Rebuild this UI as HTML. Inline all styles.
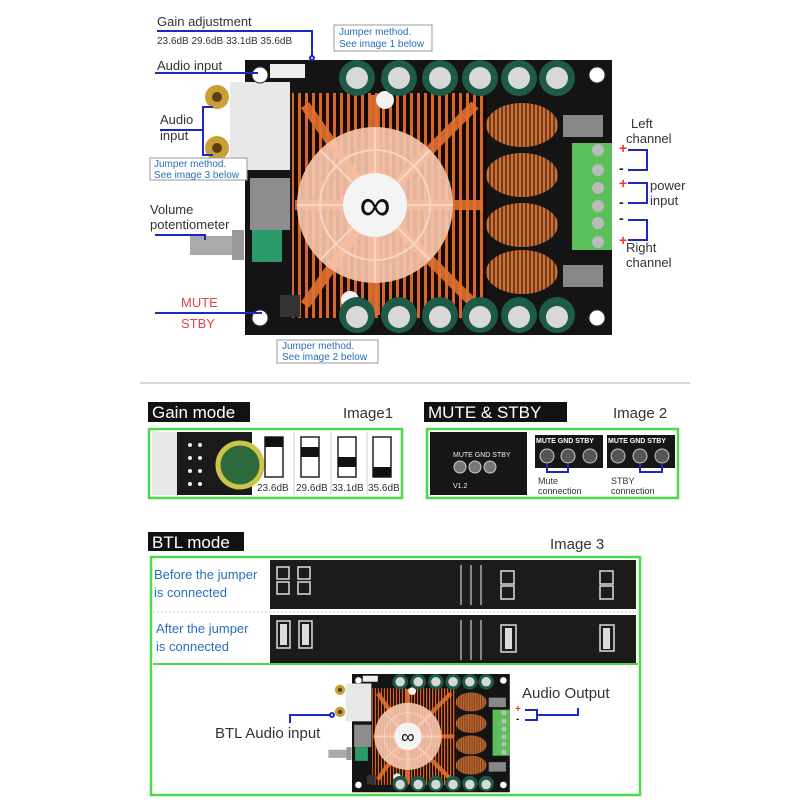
<!DOCTYPE html>
<html><head><meta charset="utf-8"><style>
html,body{margin:0;padding:0;background:#fff;}
svg{display:block;font-family:"Liberation Sans",sans-serif;}
</style></head><body>
<svg width="800" height="800" viewBox="0 0 800 800" xmlns="http://www.w3.org/2000/svg">
<defs>
<pattern id="fins" width="7" height="7" patternUnits="userSpaceOnUse">
<rect width="7" height="7" fill="#d8652a"/><rect x="0" width="4" height="7" fill="#150a04"/>
</pattern>
<pattern id="coil" width="4" height="4" patternUnits="userSpaceOnUse">
<rect width="4" height="4" fill="#c9733c"/><rect width="2" height="4" fill="#7a3a16"/>
</pattern>
<g id="board">
 <rect x="0" y="0" width="367" height="275" fill="#141414"/>
 <rect x="25" y="4" width="35" height="14" fill="#eee"/>
 <rect x="-15" y="22" width="60" height="88" fill="#e8e8e8"/>
 <circle cx="-28" cy="37" r="12" fill="#c9a038"/><circle cx="-28" cy="37" r="5" fill="#5a4010"/>
 <circle cx="-28" cy="88" r="12" fill="#c9a038"/><circle cx="-28" cy="88" r="5" fill="#5a4010"/>
 <rect x="5" y="118" width="40" height="52" fill="#8d8d8d"/>
 <rect x="-55" y="176" width="42" height="19" fill="#aaa"/>
 <rect x="-13" y="170" width="12" height="30" fill="#999"/>
 <rect x="7" y="170" width="30" height="32" fill="#2a9a6a"/>
 <rect x="47" y="33" width="195" height="225" fill="url(#fins)"/>
 <g stroke="#e07030" stroke-width="10" opacity="0.9">
  <line x1="130" y1="145" x2="60" y2="45"/><line x1="130" y1="145" x2="230" y2="45"/>
  <line x1="130" y1="145" x2="60" y2="245"/><line x1="130" y1="145" x2="230" y2="245"/>
  <line x1="130" y1="145" x2="130" y2="35"/><line x1="130" y1="145" x2="130" y2="255"/>
  <line x1="130" y1="145" x2="50" y2="145"/><line x1="130" y1="145" x2="238" y2="145"/>
 </g>
 <circle cx="130" cy="145" r="78" fill="#f6c3aa" opacity="0.92"/>
 <g stroke="#fbdccd" stroke-width="2" fill="none" opacity="0.8">
  <circle cx="130" cy="145" r="55"/>
  <line x1="130" y1="67" x2="130" y2="113"/><line x1="130" y1="177" x2="130" y2="223"/>
  <line x1="52" y1="145" x2="98" y2="145"/><line x1="162" y1="145" x2="208" y2="145"/>
  <line x1="75" y1="90" x2="107" y2="122"/><line x1="153" y1="168" x2="185" y2="200"/>
  <line x1="185" y1="90" x2="153" y2="122"/><line x1="107" y1="168" x2="75" y2="200"/>
 </g>
 <circle cx="130" cy="145" r="32" fill="#f4f4f4"/>
 <text x="130" y="160" font-size="44" text-anchor="middle" fill="#111">∞</text>
 <circle cx="140" cy="40" r="9" fill="#f2f2f2"/><circle cx="105" cy="240" r="9" fill="#f2f2f2"/>
 <g fill="#1d5a48">
 <circle cx="112" cy="18" r="18"/><circle cx="154" cy="18" r="18"/><circle cx="195" cy="18" r="18"/><circle cx="235" cy="18" r="18"/><circle cx="274" cy="18" r="18"/><circle cx="312" cy="18" r="18"/>
 <circle cx="112" cy="255" r="18"/><circle cx="154" cy="255" r="18"/><circle cx="195" cy="255" r="18"/><circle cx="235" cy="255" r="18"/><circle cx="274" cy="255" r="18"/><circle cx="312" cy="255" r="18"/>
 </g>
 <g fill="#d8d8d8">
 <circle cx="112" cy="18" r="11"/><circle cx="154" cy="18" r="11"/><circle cx="195" cy="18" r="11"/><circle cx="235" cy="18" r="11"/><circle cx="274" cy="18" r="11"/><circle cx="312" cy="18" r="11"/>
 <circle cx="112" cy="257" r="11"/><circle cx="154" cy="257" r="11"/><circle cx="195" cy="257" r="11"/><circle cx="235" cy="257" r="11"/><circle cx="274" cy="257" r="11"/><circle cx="312" cy="257" r="11"/>
 </g>
 <g fill="url(#coil)">
 <ellipse cx="277" cy="65" rx="36" ry="22"/><ellipse cx="277" cy="115" rx="36" ry="22"/><ellipse cx="277" cy="165" rx="36" ry="22"/><ellipse cx="277" cy="212" rx="36" ry="22"/>
 </g>
 <rect x="318" y="55" width="40" height="22" fill="#888"/><rect x="318" y="205" width="40" height="22" fill="#888"/>
 <rect x="327" y="83" width="40" height="107" fill="#5cc05a"/>
 <g fill="#bbb"><circle cx="353" cy="90" r="6"/><circle cx="353" cy="110" r="6"/><circle cx="353" cy="128" r="6"/><circle cx="353" cy="146" r="6"/><circle cx="353" cy="163" r="6"/><circle cx="353" cy="182" r="6"/></g>
 <rect x="35" y="235" width="20" height="22" fill="#333"/>
 <circle cx="15" cy="15" r="8" fill="#fff" stroke="#333"/><circle cx="15" cy="258" r="8" fill="#fff" stroke="#333"/><circle cx="352" cy="258" r="8" fill="#fff" stroke="#333"/><circle cx="352" cy="15" r="8" fill="#fff" stroke="#333"/>
</g>
</defs>

<use href="#board" transform="translate(245,60)"/>

<g font-size="13" fill="#333">
<text x="157" y="26">Gain adjustment</text>
<text x="157" y="44" font-size="10">23.6dB  29.6dB  33.1dB  35.6dB</text>
<text x="157" y="70">Audio input</text>
<text x="160" y="124">Audio</text><text x="160" y="140">input</text>
<text x="150" y="214">Volume</text><text x="150" y="229">potentiometer</text>
<text x="631" y="128">Left</text><text x="626" y="143">channel</text>
<text x="650" y="190">power</text><text x="650" y="205">input</text>
<text x="626" y="252">Right</text><text x="626" y="267">channel</text>
<text x="181" y="307" fill="#e0444a">MUTE</text><text x="181" y="328" fill="#e0444a">STBY</text>
</g>
<g stroke="#1a2ac0" stroke-width="2" fill="none">
<path d="M157 31 H312 V56"/><circle cx="312" cy="58" r="2"/>
<path d="M155 73 H258"/>
<path d="M213 107 H203 V155 H213"/><path d="M160 130 H203"/>
<path d="M155 235 H205 V240"/>
<path d="M155 313 H262"/>
<path d="M628 150 H647 V170 H628"/><path d="M628 183 H647 V203 H628"/><path d="M628 220 H647 V240 H628"/>
</g>
<g font-size="14" font-weight="bold"><text x="619" y="153" fill="#e33">+</text><text x="619" y="173" fill="#222">-</text><text x="619" y="188" fill="#e33">+</text><text x="619" y="207" fill="#222">-</text><text x="619" y="223" fill="#222">-</text><text x="619" y="245" fill="#e33">+</text></g>
<g fill="#fff" stroke="#999" stroke-width="1" font-size="10">
<rect x="334" y="25" width="98" height="26"/><rect x="150" y="158" width="97" height="22"/><rect x="277" y="340" width="101" height="23"/>
</g>
<g font-size="10" fill="#2a6fb8">
<text x="339" y="35">Jumper method.</text><text x="339" y="47">See image 1 below</text>
<text x="154" y="167">Jumper method.</text><text x="154" y="178">See image 3 below</text>
<text x="282" y="349">Jumper method.</text><text x="282" y="360">See image 2 below</text>
</g>
<line x1="140" y1="383" x2="690" y2="383" stroke="#ccc" stroke-width="1.5"/>

<rect x="148" y="402" width="102" height="20" fill="#111"/><text x="152" y="418" font-size="17" fill="#fff">Gain mode</text>
<text x="343" y="418" font-size="15" fill="#333">Image1</text>
<rect x="149" y="429" width="253" height="69" fill="#fff" stroke="#4ed84a" stroke-width="2.5"/>
<rect x="152" y="432" width="100" height="63" fill="#1a1a1a"/>
<rect x="152" y="432" width="25" height="63" fill="#e8e8e8"/>
<circle cx="240" cy="465" r="22" fill="#2d6a3a" stroke="#cbc34a" stroke-width="5"/>
<g fill="#eee"><circle cx="190" cy="445" r="2"/><circle cx="200" cy="445" r="2"/><circle cx="190" cy="458" r="2"/><circle cx="200" cy="458" r="2"/><circle cx="190" cy="471" r="2"/><circle cx="200" cy="471" r="2"/><circle cx="190" cy="484" r="2"/><circle cx="200" cy="484" r="2"/></g>
<g stroke="#ccc"><line x1="294" y1="432" x2="294" y2="495"/><line x1="331" y1="432" x2="331" y2="495"/><line x1="367" y1="432" x2="367" y2="495"/></g>
<g fill="#fff" stroke="#222" stroke-width="1.5">
<rect x="265" y="437" width="18" height="40"/><rect x="301" y="437" width="18" height="40"/><rect x="338" y="437" width="18" height="40"/><rect x="373" y="437" width="18" height="40"/>
</g>
<g fill="#111"><rect x="265" y="437" width="18" height="10"/><rect x="301" y="447" width="18" height="10"/><rect x="338" y="457" width="18" height="10"/><rect x="373" y="467" width="18" height="10"/></g>
<g font-size="10" fill="#333"><text x="257" y="491">23.6dB</text><text x="296" y="491">29.6dB</text><text x="332" y="491">33.1dB</text><text x="368" y="491">35.6dB</text></g>

<rect x="424" y="402" width="143" height="20" fill="#111"/><text x="428" y="418" font-size="17" fill="#fff">MUTE &amp; STBY</text>
<text x="613" y="418" font-size="15" fill="#333">Image 2</text>
<rect x="427" y="429" width="251" height="69" fill="#fff" stroke="#4ed84a" stroke-width="2.5"/>
<rect x="430" y="432" width="97" height="63" fill="#161616"/>
<g font-size="7" fill="#eee"><text x="453" y="457">MUTE GND STBY</text><text x="453" y="488">V1.2</text></g>
<g fill="#777" stroke="#ccc"><circle cx="460" cy="467" r="6"/><circle cx="475" cy="467" r="6"/><circle cx="490" cy="467" r="6"/></g>
<rect x="535" y="435" width="68" height="33" fill="#161616"/><rect x="607" y="435" width="68" height="33" fill="#161616"/>
<g font-size="7" fill="#fff" font-weight="bold"><text x="536" y="443">MUTE GND STBY</text><text x="608" y="443">MUTE GND STBY</text></g>
<g fill="#555" stroke="#ccc"><circle cx="547" cy="456" r="7"/><circle cx="568" cy="456" r="7"/><circle cx="590" cy="456" r="7"/><circle cx="618" cy="456" r="7"/><circle cx="640" cy="456" r="7"/><circle cx="662" cy="456" r="7"/></g>
<path d="M547 464 V472 H568 V464 M640 464 V472 H662 V464" stroke="#1a2ac0" stroke-width="2" fill="none"/>
<g font-size="9" fill="#333"><text x="538" y="484">Mute</text><text x="538" y="494">connection</text><text x="611" y="484">STBY</text><text x="611" y="494">connection</text></g>

<rect x="148" y="532" width="96" height="19" fill="#111"/><text x="152" y="548" font-size="17" fill="#fff">BTL mode</text>
<text x="550" y="549" font-size="15" fill="#333">Image 3</text>
<rect x="151" y="557" width="489" height="238" fill="#fff" stroke="#4ed84a" stroke-width="2.5"/>
<line x1="153" y1="612" x2="638" y2="612" stroke="#ccc" stroke-dasharray="2 2"/>
<line x1="153" y1="664" x2="638" y2="664" stroke="#4ed84a" stroke-width="2"/>
<rect x="270" y="560" width="366" height="49" fill="#1c1a1a"/>
<rect x="270" y="615" width="366" height="48" fill="#1c1a1a"/>
<g font-size="13" fill="#2a6fb8"><text x="154" y="579">Before the jumper</text><text x="154" y="597">is connected</text><text x="156" y="633">After the jumper</text><text x="156" y="651">is connected</text></g>
<g fill="none" stroke="#ddd" stroke-width="1.5">
<rect x="277" y="567" width="12" height="12"/><rect x="277" y="582" width="12" height="12"/><rect x="298" y="567" width="12" height="12"/><rect x="298" y="582" width="12" height="12"/>
<rect x="501" y="571" width="13" height="13"/><rect x="501" y="586" width="13" height="13"/><rect x="600" y="571" width="13" height="13"/><rect x="600" y="586" width="13" height="13"/>
<rect x="277" y="621" width="13" height="27"/><rect x="299" y="621" width="13" height="27"/><rect x="501" y="625" width="15" height="27"/><rect x="600" y="625" width="14" height="26"/>
</g>
<g fill="#ddd"><rect x="280" y="624" width="7" height="21"/><rect x="302" y="624" width="7" height="21"/><rect x="505" y="628" width="7" height="21"/><rect x="603" y="628" width="7" height="21"/></g>
<g fill="#888"><rect x="460" y="565" width="2" height="40"/><rect x="470" y="565" width="2" height="40"/><rect x="480" y="565" width="2" height="40"/><rect x="460" y="620" width="2" height="40"/><rect x="470" y="620" width="2" height="40"/><rect x="480" y="620" width="2" height="40"/></g>

<use href="#board" transform="translate(352,674) scale(0.43)"/>
<text x="215" y="738" font-size="15" fill="#333">BTL Audio input</text>
<text x="522" y="698" font-size="15" fill="#333">Audio Output</text>
<g stroke="#1a2ac0" stroke-width="2" fill="none">
<path d="M290 723 V715 H330"/><circle cx="332" cy="715" r="2"/>
<path d="M525 710 H537 V720 H525 M537 715 H578 V708"/>
</g>
<text x="515" y="712" font-size="10" fill="#e33" font-weight="bold">+</text><text x="516" y="722" font-size="10" fill="#222" font-weight="bold">-</text>
</svg>
</body></html>
